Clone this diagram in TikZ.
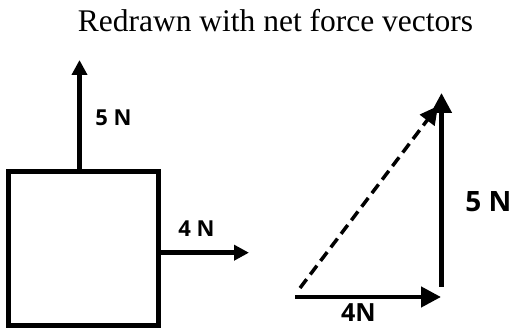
\documentclass[tikz,border=0pt]{standalone}
\usepackage{fontspec}
\setmainfont{Liberation Serif}
\newfontfamily\lblfont{Open Sans}
\usepackage{tikz}
\usetikzlibrary{positioning, arrows.meta, calc}

\tikzset{
    force/.style={line width=4.5pt, -{Triangle[length=15pt,width=15pt]}},
    vec/.style={line width=4.5pt, -{Triangle[length=20pt,width=20pt]}},
    lbl/.style={font=\lblfont\bfseries\fontsize{22}{26}\selectfont, inner sep=0pt},
}

\begin{document}
\begin{tikzpicture}[x=1pt, y=-1pt]
    \useasboundingbox (0,0) rectangle (512,328);
    \node[anchor=base, inner sep=0pt, font=\fontsize{31.5}{38}\selectfont] (title) at (275.5,32) {Redrawn with net force vectors};

    \node[draw, line width=5pt, minimum width=149.5pt, minimum height=154pt, inner sep=0pt] (box) at (83.25,248.5) {};
    \coordinate (up) at (79.5,60);
    \coordinate (rt) at (249,252.7);
    \draw[force] (up |- box.north) -- (up);
    \draw[force] (box.east |- rt) -- (rt);
    \node[lbl] (fup) at (113.5,118) {5 N};
    \node[lbl] (frt) at (196.5,229) {4 N};

    \coordinate (o) at (295,297);
    \coordinate (h) at (441,297);
    \coordinate (vb) at (441.5,287);
    \coordinate (vt) at (441.5,93);
    \coordinate (ds) at (300,288);
    \coordinate (de) at (438,106);
    \draw[vec] (o) -- (h);
    \draw[vec] (vb) -- (vt);
    \draw[line width=3.5pt, dash pattern=on 11pt off 6pt, -{Triangle[length=18pt,width=18pt]}] (ds) -- (de);
    \node[lbl, font=\lblfont\bfseries\fontsize{28}{32}\selectfont] (fv) at (488.5,202) {5 N};
    \node[lbl, font=\lblfont\bfseries\fontsize{25}{30}\selectfont] (fh) at (358.5,313) {4N};
\end{tikzpicture}
\end{document}
